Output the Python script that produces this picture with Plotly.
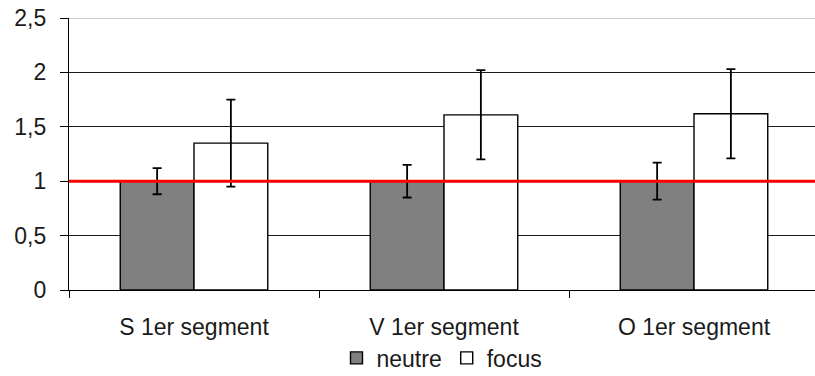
import plotly.graph_objects as go

categories = ["S 1er segment", "V 1er segment", "O 1er segment"]
neutre = [1.0, 1.0, 1.0]
neutre_err = [0.12, 0.15, 0.17]
focus = [1.35, 1.61, 1.62]
focus_err = [0.40, 0.41, 0.41]
y_ticks = [0, 0.5, 1, 1.5, 2, 2.5]
reference_level = 1.0

font = dict(family="Liberation Sans, Arial, sans-serif", size=23, color="#1a1a1a")

fig = go.Figure()
fig.add_trace(go.Bar(
    name="neutre", x=categories, y=neutre,
    marker=dict(color="#808080", line=dict(color="#000000", width=1.4)),
    error_y=dict(type="data", array=neutre_err, color="#000000", thickness=1.8, width=4.5),
))
fig.add_trace(go.Bar(
    name="focus", x=categories, y=focus,
    marker=dict(color="#ffffff", line=dict(color="#000000", width=1.4)),
    error_y=dict(type="data", array=focus_err, color="#000000", thickness=1.8, width=4.5),
))

# horizontal reference line at 1
fig.add_shape(type="line", xref="paper", x0=0, x1=1, yref="y",
              y0=reference_level, y1=reference_level,
              line=dict(color="#ff0000", width=3), layer="above")
# lighter top border of the plot area
fig.add_shape(type="line", xref="paper", x0=0, x1=1, yref="y", y0=2.5, y1=2.5,
              line=dict(color="#a0a0a0", width=1), layer="above")

fig.update_layout(
    width=815, height=376,
    margin=dict(l=69, r=0, t=18, b=86, autoexpand=False),
    paper_bgcolor="#ffffff", plot_bgcolor="#ffffff",
    font=font,
    separators=", ",
    barmode="group", bargap=0.41, bargroupgap=0,
    showlegend=True,
    legend=dict(orientation="h", x=0.5, xanchor="center",
                yref="container", y=0.048, yanchor="middle",
                bgcolor="rgba(0,0,0,0)",
                font=font, itemwidth=30, traceorder="normal", tracegroupgap=0),
)
fig.update_xaxes(
    type="category", range=[-0.5, 2.484], automargin=False,
    showline=True, linecolor="#000000", linewidth=1.4,
    ticks="outside", tickson="boundaries", ticklen=7, tickcolor="#000000", tickwidth=1.4,
    ticklabelstandoff=16, showgrid=False,
)
fig.update_yaxes(
    range=[0, 2.5], tickvals=y_ticks, tickformat=".1~f", automargin=False,
    showline=True, linecolor="#000000", linewidth=1.4,
    ticks="outside", ticklen=8, tickcolor="#000000", tickwidth=1.4,
    ticklabelstandoff=9,
    showgrid=True, gridcolor="#1a1a1a", gridwidth=1.2, zeroline=False,
)

fig.write_html("out.html")
